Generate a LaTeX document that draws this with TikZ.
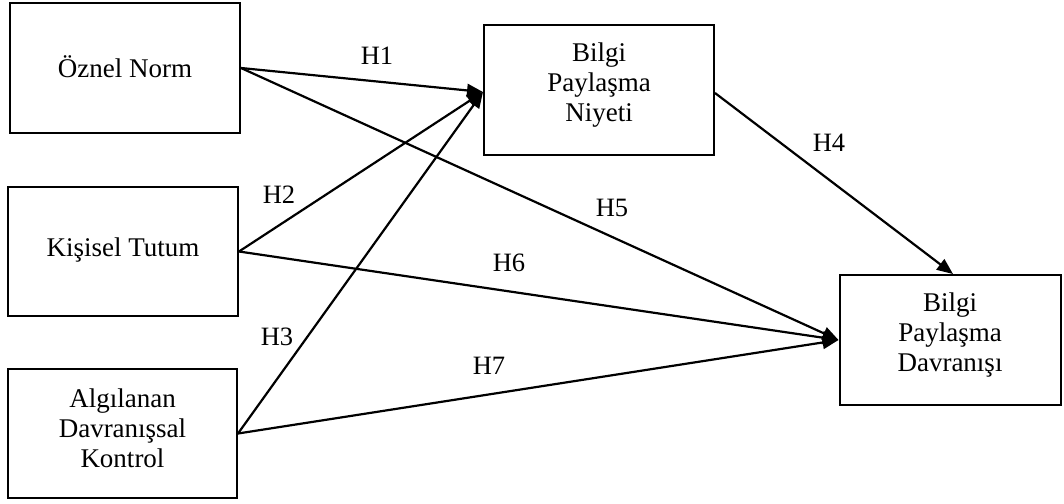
\documentclass[tikz,border=0pt]{standalone}
\usepackage{fontspec}
\setmainfont{Liberation Serif}
\usetikzlibrary{arrows.meta,calc}
\begin{document}
\begin{tikzpicture}[x=1pt,y=-1pt,
  box/.style={draw=black,line width=2pt,rectangle,inner sep=0pt},
  txt/.style={align=center,inner sep=0pt,font=\fontsize{27}{30}\selectfont},
  lbl/.style={inner sep=0pt,font=\fontsize{26.5}{30}\selectfont},
  arr/.style={line width=2.2pt,-{Triangle[length=16pt,width=13pt]}}]
\useasboundingbox (0,0) rectangle (1064,503);
% boxes
\node[box,minimum width=230pt,minimum height=130pt] (A) at (125,68) {};
\node[box,minimum width=230pt,minimum height=129pt] (B) at (123,251.5) {};
\node[box,minimum width=229pt,minimum height=129pt] (C) at (122.5,433.5) {};
\node[box,minimum width=230pt,minimum height=130pt] (D) at (599,90) {};
\node[box,minimum width=221pt,minimum height=130pt] (E) at (950,340) {};
% texts
\node[txt] (At) at ($(A.center)+(0,-1)$) {Öznel Norm};
\node[txt] (Bt) at ($(B.center)+(0,-1)$) {Kişisel Tutum};
\node[txt] (Ct) at ($(C.center)+(0,-5)$) {Algılanan\\Davranışsal\\Kontrol};
\node[txt] (Dt) at ($(D.center)+(0,-5)$) {Bilgi\\Paylaşma\\Niyeti};
\node[txt] (Et) at ($(E.center)+(0,-5)$) {Bilgi\\Paylaşma\\Davranışı};
% arrows
\coordinate (Din) at ($(D.west)+(0,2)$);
\coordinate (Dout) at ($(D.east)+(0,3)$);
\coordinate (Ein) at ($(E.north)+(3,0)$);
\draw[arr] (A.east) -- (Din);
\draw[arr] (B.east) -- (Din);
\draw[arr] (C.east) -- (Din);
\draw[arr] (A.east) -- (E.west);
\draw[arr] (B.east) -- (E.west);
\draw[arr] (C.east) -- (E.west);
\draw[arr] (Dout) -- (Ein);
% labels
\node[lbl] (H1) at (377,56) {H1};
\node[lbl] (H2) at (279,195) {H2};
\node[lbl] (H3) at (277,337) {H3};
\node[lbl] (H4) at (829,143) {H4};
\node[lbl] (H5) at (612,208) {H5};
\node[lbl] (H6) at (509,263) {H6};
\node[lbl] (H7) at (489,366) {H7};
\end{tikzpicture}
\end{document}
